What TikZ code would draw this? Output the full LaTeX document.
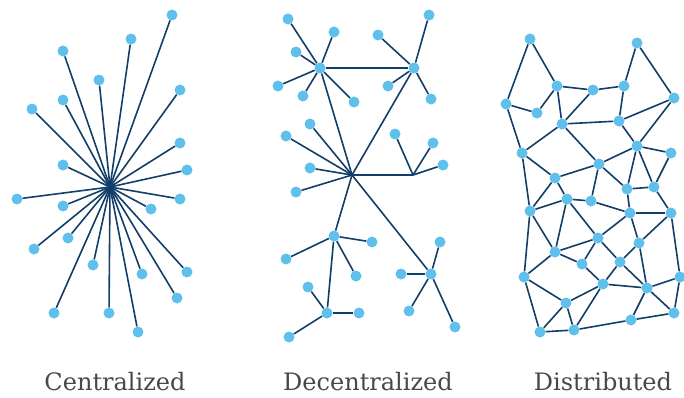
\documentclass[tikz,border=0pt]{standalone}
\usepackage{fontspec}
\setmainfont{DejaVu Serif}
\usepackage{tikz}
\usepackage{xcolor}

\definecolor{wire}{RGB}{18,62,104}
\definecolor{dotblue}{RGB}{95,192,236}
\definecolor{labelgray}{RGB}{72,72,72}

\tikzset{
  dot/.style={circle,fill=dotblue,inner sep=0pt,minimum size=11pt},
  caption/.style={text=labelgray,font=\fontsize{24}{28}\selectfont,anchor=base}
}

\begin{document}
\begin{tikzpicture}[x=1pt,y=-1pt,every edge/.style={draw=wire,line width=1.6pt}]
  \useasboundingbox (0,0) rectangle (684,397);

  % centralized: one hub, everything hangs off it
  \coordinate (c) at (110,187);
  \node (c1) [dot] at (172,15) {};
  \node (c2) [dot] at (131,39) {};
  \node (c3) [dot] at (63,51) {};
  \node (c4) [dot] at (99,80) {};
  \node (c5) [dot] at (180,90) {};
  \node (c6) [dot] at (63,100) {};
  \node (c7) [dot] at (32,109) {};
  \node (c8) [dot] at (180,143) {};
  \node (c9) [dot] at (63,165) {};
  \node (c10) [dot] at (187,170) {};
  \node (c11) [dot] at (17,199) {};
  \node (c12) [dot] at (180,199) {};
  \node (c13) [dot] at (63,206) {};
  \node (c14) [dot] at (151,209) {};
  \node (c15) [dot] at (68,238) {};
  \node (c16) [dot] at (34,249) {};
  \node (c17) [dot] at (93,265) {};
  \node (c18) [dot] at (187,272) {};
  \node (c19) [dot] at (142,274) {};
  \node (c20) [dot] at (177,298) {};
  \node (c21) [dot] at (54,313) {};
  \node (c22) [dot] at (109,313) {};
  \node (c23) [dot] at (138,332) {};

  \path (c) edge (c1) edge (c2) edge (c3) edge (c4) edge (c5) edge (c6)
            edge (c7) edge (c8) edge (c9) edge (c10) edge (c11) edge (c12)
            edge (c13) edge (c14) edge (c15) edge (c16) edge (c17) edge (c18)
            edge (c19) edge (c20) edge (c21) edge (c22) edge (c23);

  % decentralized: a few hubs with their own leaves
  \node (dA) [dot] at (320,68) {};
  \node (dB) [dot] at (414,68) {};
  \coordinate (dC) at (352,175);
  \coordinate (dD) at (413,175);
  \node (dE) [dot] at (334,236) {};
  \node (dF) [dot] at (327,313) {};
  \node (dG) [dot] at (431,274) {};

  \node (dA1) [dot] at (288,19) {};
  \node (dA2) [dot] at (334,32) {};
  \node (dA3) [dot] at (296,52) {};
  \node (dA4) [dot] at (278,86) {};
  \node (dA5) [dot] at (303,96) {};
  \node (dA6) [dot] at (354,102) {};
  \node (dB1) [dot] at (429,15) {};
  \node (dB2) [dot] at (378,35) {};
  \node (dB3) [dot] at (388,86) {};
  \node (dB4) [dot] at (431,99) {};
  \node (dC1) [dot] at (310,124) {};
  \node (dC2) [dot] at (286,136) {};
  \node (dC3) [dot] at (310,168) {};
  \node (dC4) [dot] at (296,192) {};
  \node (dD1) [dot] at (395,134) {};
  \node (dD2) [dot] at (433,143) {};
  \node (dD3) [dot] at (443,165) {};
  \node (dE1) [dot] at (372,242) {};
  \node (dE2) [dot] at (286,259) {};
  \node (dE3) [dot] at (356,276) {};
  \node (dF1) [dot] at (308,287) {};
  \node (dF2) [dot] at (359,313) {};
  \node (dF3) [dot] at (289,337) {};
  \node (dG1) [dot] at (440,242) {};
  \node (dG2) [dot] at (401,274) {};
  \node (dG3) [dot] at (409,311) {};
  \node (dG4) [dot] at (455,327) {};

  \path (dA) edge (dA1) edge (dA2) edge (dA3) edge (dA4) edge (dA5) edge (dA6)
             edge (dB) edge (dC);
  \path (dB) edge (dB1) edge (dB2) edge (dB3) edge (dB4) edge (dC);
  \path (dC) edge (dC1) edge (dC2) edge (dC3) edge (dC4)
             edge (dD) edge (dE) edge (dG);
  \path (dD) edge (dD1) edge (dD2) edge (dD3);
  \path (dE) edge (dE1) edge (dE2) edge (dE3) edge (dF);
  \path (dF) edge (dF1) edge (dF2) edge (dF3);
  \path (dG) edge (dG1) edge (dG2) edge (dG3) edge (dG4);

  % distributed: mesh
  \node (n1) [dot] at (530,39) {};
  \node (n2) [dot] at (637,43) {};
  \node (n3) [dot] at (557,86) {};
  \node (n4) [dot] at (593,90) {};
  \node (n5) [dot] at (624,86) {};
  \node (n6) [dot] at (674,98) {};
  \node (n7) [dot] at (506,104) {};
  \node (n8) [dot] at (537,113) {};
  \node (n9) [dot] at (562,124) {};
  \node (n10) [dot] at (619,121) {};
  \node (n11) [dot] at (637,146) {};
  \node (n12) [dot] at (671,153) {};
  \node (n13) [dot] at (522,153) {};
  \node (n14) [dot] at (599,164) {};
  \node (n15) [dot] at (555,178) {};
  \node (n16) [dot] at (627,189) {};
  \node (n17) [dot] at (654,187) {};
  \node (n18) [dot] at (567,199) {};
  \node (n19) [dot] at (591,201) {};
  \node (n20) [dot] at (530,211) {};
  \node (n21) [dot] at (630,213) {};
  \node (n22) [dot] at (671,213) {};
  \node (n23) [dot] at (598,238) {};
  \node (n24) [dot] at (639,243) {};
  \node (n25) [dot] at (555,252) {};
  \node (n26) [dot] at (582,264) {};
  \node (n27) [dot] at (620,262) {};
  \node (n28) [dot] at (524,277) {};
  \node (n29) [dot] at (680,277) {};
  \node (n30) [dot] at (603,284) {};
  \node (n31) [dot] at (647,288) {};
  \node (n32) [dot] at (566,303) {};
  \node (n33) [dot] at (674,313) {};
  \node (n34) [dot] at (631,320) {};
  \node (n35) [dot] at (540,332) {};
  \node (n36) [dot] at (574,330) {};

  \path (n1) edge (n7) edge (n3);
  \path (n2) edge (n5) edge (n6);
  \path (n3) edge (n8) edge (n4) edge (n9);
  \path (n4) edge (n5) edge (n9);
  \path (n5) edge (n10);
  \path (n6) edge (n10) edge (n11);
  \path (n7) edge (n8) edge (n13);
  \path (n9) edge (n10) edge (n13) edge (n14);
  \path (n10) edge (n11);
  \path (n11) edge (n14) edge (n12) edge (n16) edge (n17);
  \path (n12) edge (n17);
  \path (n13) edge (n15) edge (n20);
  \path (n14) edge (n15) edge (n19) edge (n16);
  \path (n15) edge (n18) edge (n20);
  \path (n16) edge (n17) edge (n21);
  \path (n17) edge (n22);
  \path (n18) edge (n19) edge (n20) edge (n25) edge (n23);
  \path (n19) edge (n21);
  \path (n20) edge (n25) edge (n28);
  \path (n21) edge (n22) edge (n23) edge (n24);
  \path (n22) edge (n24) edge (n29);
  \path (n23) edge (n25) edge (n26) edge (n27);
  \path (n24) edge (n27) edge (n31);
  \path (n25) edge (n26) edge (n28);
  \path (n26) edge (n30);
  \path (n27) edge (n30) edge (n31);
  \path (n28) edge (n32) edge (n35);
  \path (n29) edge (n31) edge (n33);
  \path (n30) edge (n31) edge (n32) edge (n36);
  \path (n31) edge (n33) edge (n34);
  \path (n32) edge (n35) edge (n36);
  \path (n34) edge (n36) edge (n33);
  \path (n35) edge (n36);

  \node (lc) [caption] at (115,390) {Centralized};
  \node (ld) [caption] at (368,390) {Decentralized};
  \node (lt) [caption] at (603,390) {Distributed};
\end{tikzpicture}
\end{document}
